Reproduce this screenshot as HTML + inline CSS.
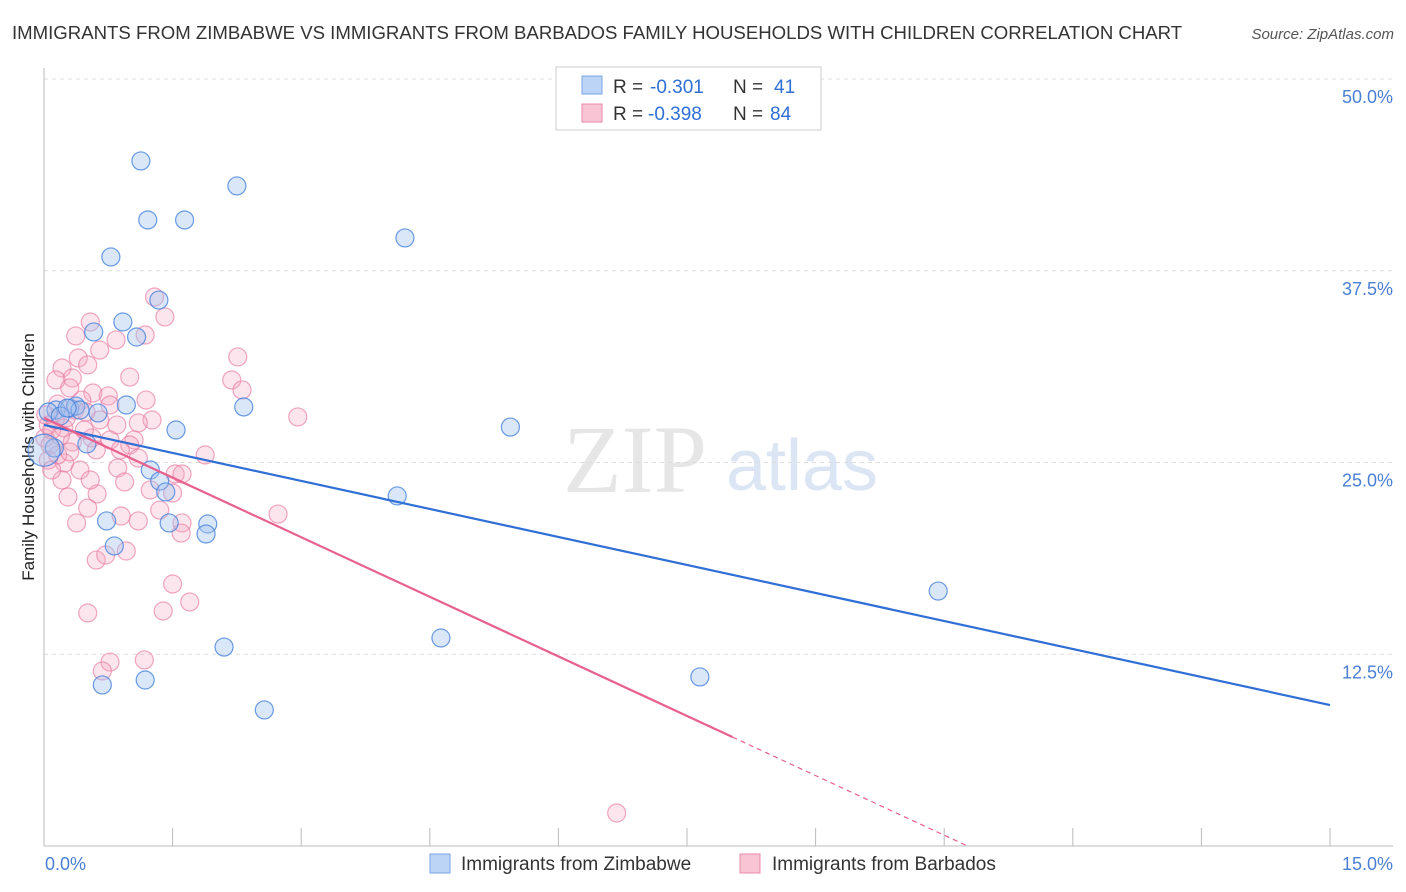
<!DOCTYPE html>
<html><head><meta charset="utf-8"><style>
body{margin:0;background:#fff;font-family:"Liberation Sans",sans-serif;}
#wrap{position:relative;width:1406px;height:892px;overflow:hidden}
</style></head><body>
<div id="wrap">
<svg id="svg" width="1406" height="892" xmlns="http://www.w3.org/2000/svg">
<text x="12" y="39" font-size="18.6" fill="#333">IMMIGRANTS FROM ZIMBABWE VS IMMIGRANTS FROM BARBADOS FAMILY HOUSEHOLDS WITH CHILDREN CORRELATION CHART</text>
<text x="1394" y="39" font-size="15" fill="#555" font-style="italic" text-anchor="end">Source: ZipAtlas.com</text>
<text x="34" y="457" font-size="17" fill="#222" text-anchor="middle" transform="rotate(-90 34 457)">Family Households with Children</text>
<text x="635" y="492" font-size="96" fill="#e6e6e6" font-family="Liberation Serif,serif" text-anchor="middle">ZIP</text>
<text x="802" y="490" font-size="72" fill="#dbe5f3" text-anchor="middle">atlas</text>
<g id="grid"></g><g id="marks"></g>
<g>
<rect x="556" y="67" width="265" height="63" fill="#fff" stroke="#ccc"/>
<rect x="582" y="76" width="20" height="18" fill="#bcd4f5" stroke="#7aa6e6"/>
<rect x="582" y="104" width="20" height="18" fill="#f9c5d5" stroke="#e88aaa"/>
<text y="93" font-size="19" fill="#333"><tspan x="613">R =</tspan><tspan x="650" fill="#2f6fd6">-0.301</tspan><tspan x="733">N =</tspan><tspan x="774" fill="#2f6fd6">41</tspan></text>
<text y="120" font-size="19" fill="#333"><tspan x="613">R =</tspan><tspan x="648" fill="#2f6fd6">-0.398</tspan><tspan x="733">N =</tspan><tspan x="770" fill="#2f6fd6">84</tspan></text>
</g>
<g>
<rect x="430" y="854" width="20" height="19" fill="#bcd4f5" stroke="#7aa6e6"/>
<text x="461" y="870" font-size="19" fill="#333">Immigrants from Zimbabwe</text>
<rect x="740" y="854" width="20" height="19" fill="#f9c5d5" stroke="#e88aaa"/>
<text x="772" y="870" font-size="19" fill="#333">Immigrants from Barbados</text>
</g>
</svg>
</div>
<script>
const yTicks=[12.5,25,37.5,50];
const yTickLabels=["12.5%","25.0%","37.5%","50.0%"];
const xTickCount=10;
const xLabels=["0.0%","15.0%"];
const zimX=[1.13,2.25,1.21,1.64,4.21,0.78,1.34,0.92,0.58,1.08,0.14,0.30,0.37,0.63,0.96,2.33,5.44,1.54,0.50,0.12,1.24,1.35,1.42,4.12,0.73,1.46,1.91,1.89,0.82,10.43,4.63,2.10,7.65,0.68,1.18,2.57,0.05,0.19,0.42,0.0,0.27];
const zimY=[44.66,43.03,40.81,40.81,39.64,38.40,35.59,34.16,33.51,33.18,28.42,28.55,28.68,28.23,28.75,28.62,27.31,27.12,26.21,25.95,24.51,23.79,23.08,22.82,21.19,21.06,20.99,20.34,19.56,16.62,13.56,12.97,11.02,10.50,10.82,8.87,28.29,28.03,28.42,25.8,28.55];
const barX=[1.29,1.41,0.54,0.37,1.18,0.84,0.65,2.26,0.40,0.21,0.51,1.00,0.33,2.19,0.14,0.30,2.31,0.57,0.75,1.19,0.44,0.16,0.36,0.77,0.49,2.96,1.26,1.10,0.23,0.85,1.05,0.56,0.01,0.07,0.33,0.61,1.00,1.88,0.24,1.10,0.42,0.86,1.53,1.61,0.94,0.21,0.28,0.62,1.24,1.50,0.51,2.73,0.90,1.10,0.38,1.61,1.60,0.96,0.61,0.72,1.50,1.70,0.51,1.39,0.77,0.68,1.17,6.68,0.05,0.09,0.13,0.19,0.02,0.26,0.47,0.65,0.05,0.16,0.30,0.77,0.89,0.09,0.54,1.35];
const barY=[35.79,34.49,34.16,33.25,33.31,32.99,32.33,31.88,31.81,31.16,31.36,30.57,30.51,30.38,30.38,29.86,29.73,29.53,29.34,29.07,29.07,28.81,28.42,28.75,28.29,27.97,27.77,27.58,27.25,27.45,26.47,26.60,26.60,26.14,26.34,25.82,26.14,25.49,24.97,25.29,24.51,24.64,24.25,24.25,23.73,23.86,22.75,22.95,23.21,23.01,22.03,21.64,21.51,21.19,21.06,21.06,20.40,19.23,18.64,18.97,17.08,15.91,15.19,15.32,11.99,11.41,12.13,2.15,27.45,27.12,27.77,26.73,28.10,27.90,27.12,27.77,25.16,25.49,25.69,26.47,25.82,24.51,23.86,21.90];
const zimTrend=[27.45,9.19];
const barTrend=[27.9,-2.59];

const NS="http://www.w3.org/2000/svg";
const X0=44,X1=1330,Y0=846,Y50=79;
const sx=v=>X0+v/15*(X1-X0);
const sy=v=>Y0-v/50*(Y0-Y50);
function mk(tag,attrs,parent){const e=document.createElementNS(NS,tag);for(const k in attrs)e.setAttribute(k,attrs[k]);parent.appendChild(e);return e;}
const grid=document.getElementById('grid'),marks=document.getElementById('marks');
yTicks.forEach((t,i)=>{
 let l=mk('line',{x1:X0,x2:1393,y1:sy(t),y2:sy(t),stroke:'#ddd','stroke-dasharray':'4 4'},grid);
 
 
 let tx=mk('text',{x:1393,y:sy(t)+24,'font-size':18,fill:'#4a7fd4','text-anchor':'end'},grid);
 tx.textContent=yTickLabels[i];
 
 
});
let ax=mk('line',{x1:X0,x2:1393,y1:Y0,y2:Y0,stroke:'#bbb'},grid);


let ay=mk('line',{x1:X0,x2:X0,y1:68,y2:Y0,stroke:'#bbb'},grid);


for(let i=0;i<=xTickCount;i++){
 let v=15*i/xTickCount;
 let t=mk('line',{x1:sx(v),x2:sx(v),y1:828,y2:Y0,stroke:'#bbb'},grid);
 
 
}
[[xLabels[0],45,'start'],[xLabels[1],1393,'end']].forEach(a=>{
 let t=mk('text',{x:a[1],y:870,'font-size':18,fill:'#4a7fd4','text-anchor':a[2]},grid);
 t.textContent=a[0];
 
 
});
barX.forEach((x,i)=>{
 let c=mk('circle',{cx:sx(x),cy:sy(barY[i]),r:9,fill:'rgba(246,170,195,0.3)',stroke:'rgba(232,120,160,0.65)','stroke-width':1.2},marks);
 
 
});
zimX.forEach((x,i)=>{
 let c=mk('circle',{cx:sx(x),cy:sy(zimY[i]),r:(x===0?16:9),fill:'rgba(160,195,240,0.4)',stroke:'rgba(70,130,220,0.8)','stroke-width':1.2},marks);
 
 
});
let zl=mk('line',{x1:sx(0),y1:sy(zimTrend[0]),x2:sx(15),y2:sy(zimTrend[1]),stroke:'#2f6fd6','stroke-width':2.2},marks);


const bf=x=>barTrend[0]+barTrend[1]*x;
const bSolidEnd=8.03, bZero=-barTrend[0]/barTrend[1];
let bl=mk('line',{x1:sx(0),y1:sy(bf(0)),x2:sx(bSolidEnd),y2:sy(bf(bSolidEnd)),stroke:'#e8608e','stroke-width':2.2},marks);


let bd=mk('line',{x1:sx(bSolidEnd),y1:sy(bf(bSolidEnd)),x2:sx(bZero),y2:sy(0),stroke:'#e8608e','stroke-width':1.2,'stroke-dasharray':'5 4'},marks);


</script>
</body></html>
